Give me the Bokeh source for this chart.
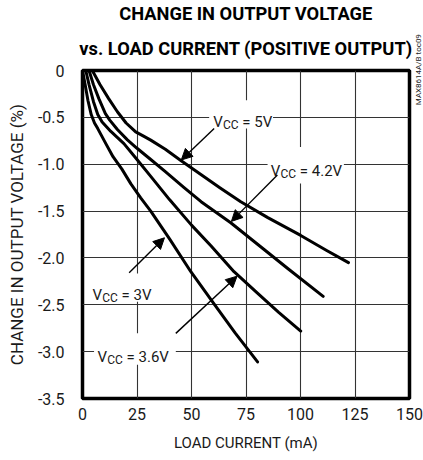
from bokeh.plotting import figure
from bokeh.models import (Range1d, FixedTicker, Label, Arrow, NormalHead, NumeralTickFormatter,
                          Title, LinearAxis)
from bokeh.embed import file_html
from bokeh.resources import INLINE
import math

# ---- data (load current mA, change in output voltage %) ----
load_5v = [4.5, 8, 12, 16, 20, 24.4, 28, 31.3, 38, 45.1, 54.3, 63, 72.6, 85, 100.1, 112, 122]
dv_5v = [0, -0.15, -0.3, -0.44, -0.56, -0.655, -0.70, -0.743, -0.84, -0.96, -1.11, -1.25, -1.40, -1.57, -1.76, -1.92, -2.05]

load_42v = [3, 5, 7.5, 10.5, 12.5, 16, 20.6, 25, 31.3, 38, 46.6, 54.4, 68, 83.3, 94, 110.4]
dv_42v = [0, -0.15, -0.30, -0.46, -0.53, -0.63, -0.74, -0.83, -0.95, -1.08, -1.25, -1.40, -1.625, -1.91, -2.11, -2.41]

load_36v = [1.5, 3, 5, 7, 9, 13, 19, 25, 31.3, 40, 50, 58.9, 69.5, 80, 90, 100.1]
dv_36v = [0, -0.15, -0.33, -0.47, -0.55, -0.65, -0.78, -0.95, -1.13, -1.38, -1.65, -1.87, -2.147, -2.37, -2.58, -2.78]

load_3v = [0, 1.2, 2.5, 4, 5.5, 7, 10.7, 14, 18, 22.2, 26.7, 31.3, 40, 49.7, 60, 70, 80.3]
dv_3v = [0, -0.15, -0.32, -0.47, -0.56, -0.62, -0.78, -0.92, -1.05, -1.21, -1.36, -1.50, -1.80, -2.147, -2.48, -2.80, -3.11]

x_ticks = [0, 25, 50, 75, 100, 125, 150]
y_ticks = [0, -0.5, -1.0, -1.5, -2.0, -2.5, -3.0, -3.5]

title_lines = ["CHANGE IN OUTPUT VOLTAGE", "vs. LOAD CURRENT (POSITIVE OUTPUT)"]
x_label = "LOAD CURRENT (mA)"
y_label = "CHANGE IN OUTPUT VOLTAGE (%)"
side_note = "MAX8614A/B toc09"
side_note_at = -0.37
vcc_values = ["5V", "4.2V", "3.6V", "3V"]

FONT = "Roboto"
TXT = "#1a1a1a"
PX_Y = 93.8  # pixels per % unit (for small vertical text offsets)

p = figure(frame_width=327, frame_height=328,
           min_border_left=82, min_border_right=14, min_border_top=69, min_border_bottom=55,
           x_range=Range1d(0, 150), y_range=Range1d(-3.5, 0),
           output_backend="svg", toolbar_location=None)
p.title_location = None

p.background_fill_color = "white"
p.border_fill_color = "white"
p.outline_line_color = "black"
p.outline_line_width = 3.5

p.xaxis.ticker = FixedTicker(ticks=x_ticks)
p.yaxis.ticker = FixedTicker(ticks=y_ticks)
p.yaxis.formatter = NumeralTickFormatter(format="0.0")
p.yaxis.major_label_overrides = {0: "0"}
for ax in (p.xaxis, p.yaxis):
    ax.axis_line_color = None
    ax.major_tick_line_color = None
    ax.minor_tick_line_color = None
    ax.major_label_text_font = FONT
    ax.major_label_text_font_size = "16px"
    ax.major_label_text_color = TXT
    ax.axis_label_text_font = FONT
    ax.axis_label_text_font_style = "normal"
    ax.axis_label_text_color = TXT
p.yaxis.major_label_standoff = 12
p.xaxis.major_label_standoff = 3

p.xaxis.axis_label = x_label
p.xaxis.axis_label_text_font_size = "15px"
p.xaxis.axis_label_standoff = 11

p.yaxis.axis_label = y_label
p.yaxis.axis_label_text_font_size = "17px"
p.yaxis.axis_label_standoff = 8

for g in (p.xgrid, p.ygrid):
    g.grid_line_color = "#333333"
    g.grid_line_width = 1.1

# title lines (first added sits closest to the frame)
p.add_layout(Title(text=title_lines[1], align="center", text_font=FONT, text_font_style="bold",
                   text_font_size="18.3px", text_color="black", standoff=24), "above")
p.add_layout(Title(text=title_lines[0], align="center", text_font=FONT, text_font_style="bold",
                   text_font_size="18.3px", text_color="black", standoff=0, text_line_height=0.8), "above")

# side note on the right
note_axis = LinearAxis(ticker=FixedTicker(ticks=[side_note_at]), major_label_overrides={side_note_at: side_note},
                       major_label_orientation=math.pi / 2, axis_line_color=None,
                       major_tick_line_color=None, minor_tick_line_color=None,
                       major_label_text_font=FONT, major_label_text_font_size="8px",
                       major_label_text_color=TXT, major_label_standoff=3)
p.add_layout(note_axis, "right")

# white boxes behind the VCC labels (cover grid lines)
boxes = [(58.1, 87.4, -0.317, -0.619),
         (84.9, 119.9, -0.815, -1.206),
         (2.5, 33.5, -2.165, -2.467),
         (5.3, 42.8, -2.805, -3.14)]
p.quad(left=[b[0] for b in boxes], right=[b[1] for b in boxes],
       top=[b[2] for b in boxes], bottom=[b[3] for b in boxes],
       fill_color="white", line_color=None)

for xs, ys in [(load_5v, dv_5v), (load_42v, dv_42v), (load_36v, dv_36v), (load_3v, dv_3v)]:
    p.line(xs, ys, line_width=3, line_color="black", line_join="round", line_cap="round")


def vcc_label(x, y_base, val):
    common = dict(text_font=FONT, text_color=TXT, text_baseline="alphabetic", text_align="left")
    p.add_layout(Label(x=x, y=y_base, text="V", text_font_size="15px", **common))
    p.add_layout(Label(x=x, x_offset=9.6, y=y_base - 3.3 / PX_Y, text="CC", text_font_size="12px", **common))
    p.add_layout(Label(x=x, x_offset=29.0, y=y_base, text="= " + val, text_font_size="15px", **common))


vcc_label(60.0, -0.548, vcc_values[0])
vcc_label(86.4, -1.07, vcc_values[1])
vcc_label(6.9, -3.053, vcc_values[2])
vcc_label(4.6, -2.396, vcc_values[3])

arrows = [(60.4, -0.619, 45.3, -0.955),
          (89.4, -1.116, 68.3, -1.61),
          (42.8, -2.805, 70.9, -2.195),
          (21.4, -2.158, 37.6, -1.785)]
for xs_, ys_, xe, ye in arrows:
    p.add_layout(Arrow(end=NormalHead(size=11, fill_color="black", line_color="black", line_width=1),
                       x_start=xs_, y_start=ys_, x_end=xe, y_end=ye,
                       line_width=1.4, line_color="black"))

open("out.html", "w").write(file_html(p, INLINE))
